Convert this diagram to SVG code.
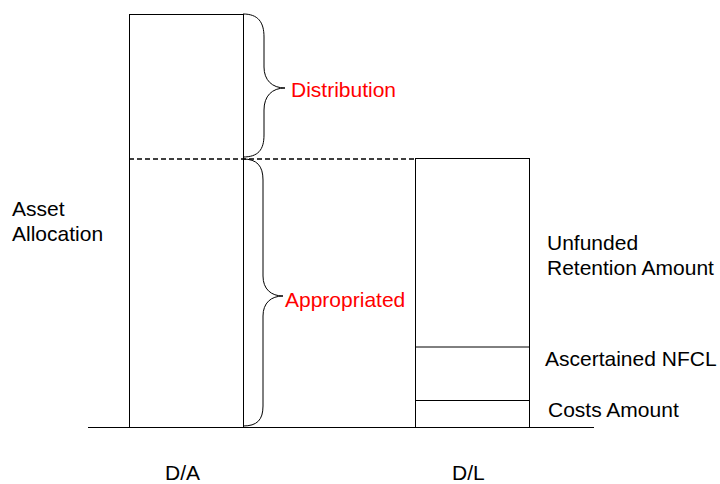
<svg xmlns="http://www.w3.org/2000/svg" width="720" height="484" viewBox="0 0 720 484">
<style>
.box{fill:#fff;stroke:#000;stroke-width:1}
.ln{fill:none;stroke:#000;stroke-width:1}
.dash{fill:none;stroke:#000;stroke-width:1.3;stroke-dasharray:5,3}
.t{font-family:"Liberation Sans",Arial,sans-serif;font-size:21px;fill:#000}
.r{fill:#ff0000}
</style>
<rect width="720" height="484" fill="#fff"/>
<g id="da-bar">
<rect class="box" x="129.5" y="14.5" width="114" height="413"/>
</g>
<g id="dl-bar">
<rect class="box" x="415.5" y="158.5" width="114" height="269"/>
<line class="ln" x1="415.5" y1="347" x2="529.5" y2="347"/>
<line class="ln" x1="415.5" y1="400.5" x2="529.5" y2="400.5"/>
</g>
<g id="connectors">
<line class="dash" x1="129" y1="159" x2="415" y2="159"/>
<line class="ln" x1="88" y1="427.5" x2="594" y2="427.5"/>
<path class="ln" d="M243,14 C258,14 264,22 264,37 L264,67 C264,80 272,88 285,88 C272,88 264,96 264,110 L264,135 C264,150 258,157 243,157"/>
<path class="ln" d="M243,159 C257,159 263,166 263,180 L263,276 C263,289 271,296 283,296 C271,296 263,303 263,316 L263,406 C263,420 257,426 243,426"/>
</g>
<g id="labels">
<text class="t r" x="291" y="97">Distribution</text>
<text class="t r" x="285" y="307">Appropriated</text>
<text class="t" x="12" y="216">Asset</text>
<text class="t" x="12" y="241">Allocation</text>
<text class="t" x="547" y="250">Unfunded</text>
<text class="t" x="547" y="275">Retention Amount</text>
<text class="t" x="545" y="366">Ascertained NFCL</text>
<text class="t" x="548" y="417">Costs Amount</text>
<text class="t" x="165" y="480">D/A</text>
<text class="t" x="452" y="480">D/L</text>
</g>
</svg>
